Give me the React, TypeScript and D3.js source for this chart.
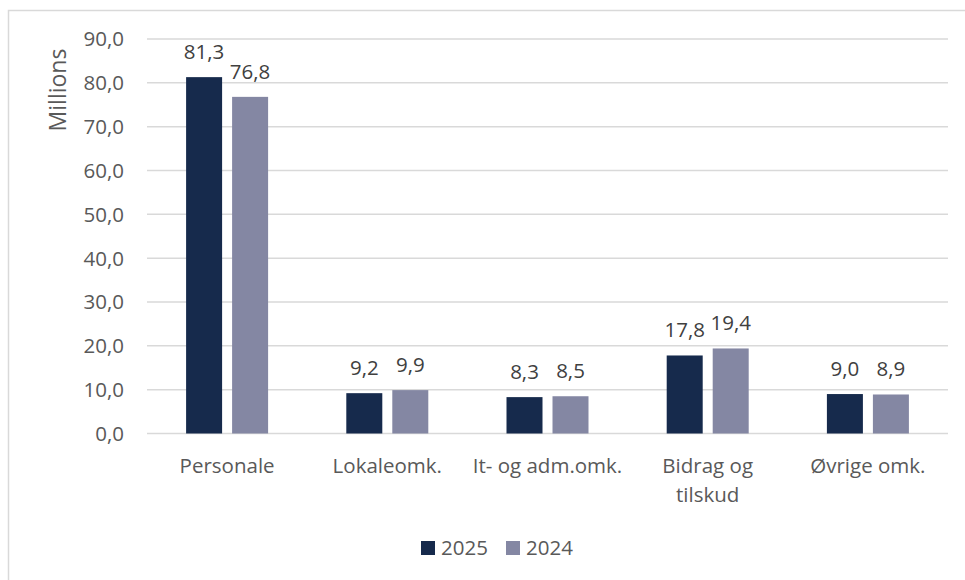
import * as d3 from "d3";

const categories = ["Personale", "Lokaleomk.", "It- og adm.omk.", "Bidrag og tilskud", "Øvrige omk."];
const categoryLines = [["Personale"], ["Lokaleomk."], ["It- og adm.omk."], ["Bidrag og", "tilskud"], ["Øvrige omk."]];
const seriesNames = ["2025", "2024"];
const values2025 = [81.3, 9.2, 8.3, 17.8, 9.0];
const values2024 = [76.8, 9.9, 8.5, 19.4, 8.9];
const yTicks = [0, 10, 20, 30, 40, 50, 60, 70, 80, 90];

const colors = ["#162a4c", "#8487a3"];
const textColor = "#595959";
const font = "'Open Sans', sans-serif";
const fs = 20.5;

const W = 965;
const H = 580;
const plot = { left: 147, right: 948, top: 39, bottom: 433.5 };

export default function App() {
  const series = [values2025, values2024];
  const fmt = (v: number) => v.toFixed(1).replace(".", ",");

  const x = d3.scaleBand<string>().domain(categories).range([plot.left, plot.right]).padding(0);
  const y = d3.scaleLinear().domain([0, 90]).range([plot.bottom, plot.top]);

  const barW = 36;
  const barGap = 10;
  const groupW = barW * 2 + barGap;

  return (
    <div style={{ position: "absolute", left: 0, top: 0 }}>
      <svg width={W} height={H} style={{ display: "block", background: "#fff" }} fontFamily={font}>
        <rect x={8.5} y={10.5} width={1000} height={1000} fill="#fff" stroke="#d9d9d9" strokeWidth={1.5} />

        {yTicks.map((t) => (
          <g key={t}>
            <line x1={plot.left} x2={plot.right} y1={y(t)} y2={y(t)} stroke="#d9d9d9" strokeWidth={1.5} />
            <text x={124} y={y(t)} dy="0.36em" textAnchor="end" fontSize={fs} fill={textColor}>
              {fmt(t)}
            </text>
          </g>
        ))}

        <text
          transform="translate(66,90) rotate(-90)"
          textAnchor="middle"
          fontSize={23}
          fill={textColor}
        >
          Millions
        </text>

        {categories.map((c, i) => {
          const cx = (x(c) as number) + x.bandwidth() / 2;
          const x0 = cx - groupW / 2;
          return (
            <g key={c}>
              {series.map((s, j) => {
                const bx = x0 + j * (barW + barGap);
                const v = s[i];
                return (
                  <g key={j}>
                    <rect x={bx} y={y(v)} width={barW} height={y(0) - y(v)} fill={colors[j]} />
                    <text x={bx + barW / 2} y={y(v) - 18} textAnchor="middle" fontSize={fs} fill="#404040">
                      {fmt(v)}
                    </text>
                  </g>
                );
              })}
              {categoryLines[i].map((line, k) => (
                <text key={k} x={cx} y={473 + k * 28.5} textAnchor="middle" fontSize={fs} fill={textColor}>
                  {line}
                </text>
              ))}
            </g>
          );
        })}

        {seriesNames.map((n, j) => (
          <g key={n} transform={`translate(${421 + j * 85},0)`}>
            <rect x={0} y={541} width={14} height={14} fill={colors[j]} />
            <text x={20} y={555} fontSize={fs} fill={textColor}>
              {n}
            </text>
          </g>
        ))}
      </svg>
    </div>
  );
}
